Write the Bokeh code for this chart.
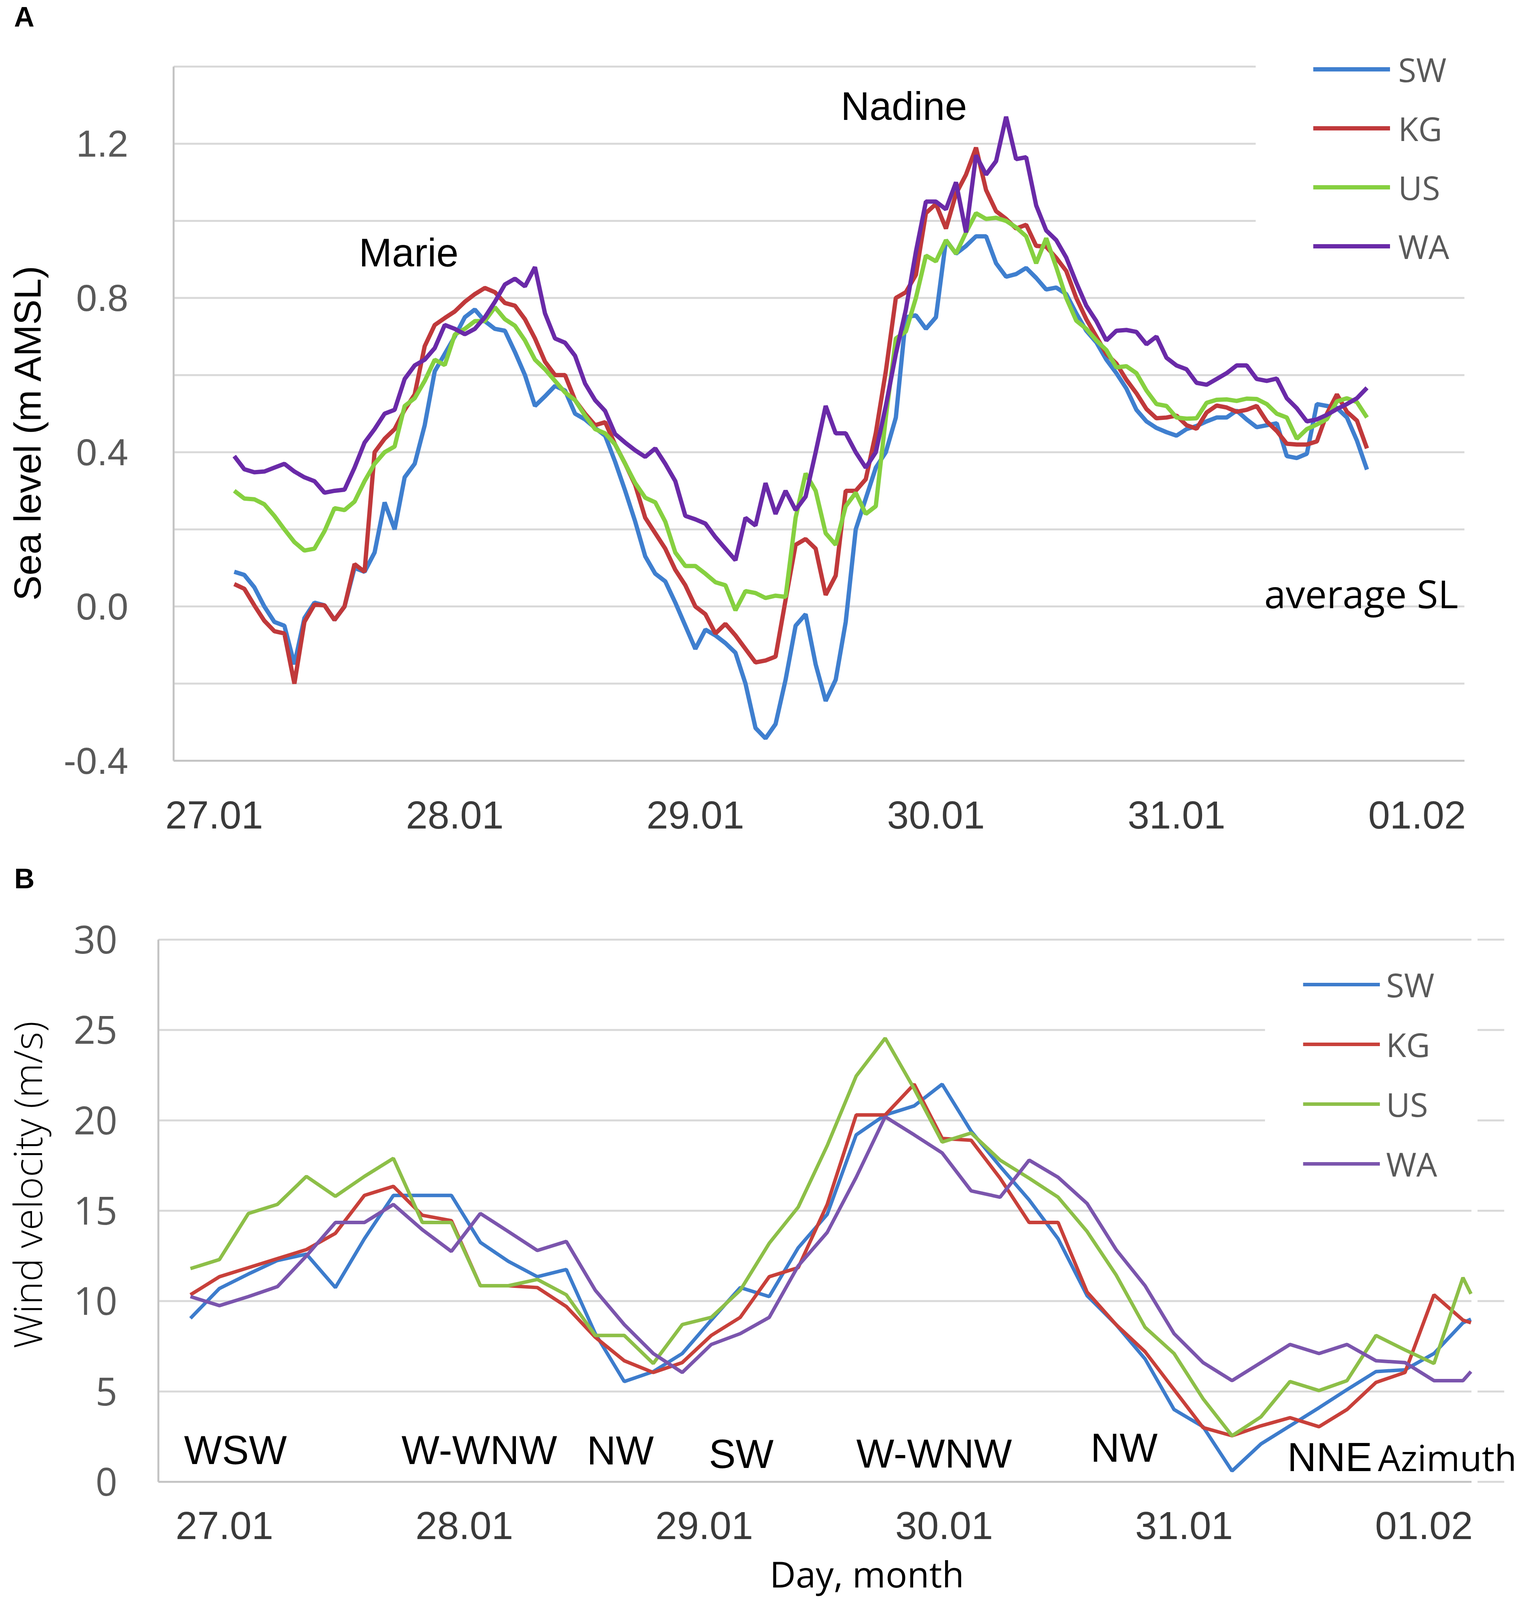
from math import pi

from bokeh.embed import file_html
from bokeh.layouts import column
from bokeh.models import FixedTicker, Label, PrintfTickFormatter, Range1d
from bokeh.plotting import figure
from bokeh.resources import INLINE

# ---- data -------------------------------------------------------------
stations = ["SW", "KG", "US", "WA"]
day_labels = ["27.01", "28.01", "29.01", "30.01", "31.01", "01.02"]
day_hours = [0, 24, 48, 72, 96, 120]

# panel A: sea level (m AMSL), hourly, hours after 27.01 00:00
sl_hours = list(range(2, 116))
sl_sw = [0.09, 0.082, 0.05, 0.0, -0.04, -0.05, -0.15, -0.03, 0.01, 0.003,
         -0.035, 0.0, 0.10, 0.09, 0.14, 0.27, 0.20, 0.335, 0.37, 0.47,
         0.61, 0.655, 0.70, 0.75, 0.77, 0.74, 0.72, 0.715, 0.66, 0.60,
         0.52, 0.545, 0.572, 0.56, 0.50, 0.485, 0.463, 0.443, 0.375, 0.30,
         0.22, 0.13, 0.085, 0.065, 0.01, -0.05, -0.11, -0.06, -0.075, -0.095,
         -0.12, -0.20, -0.315, -0.342, -0.305, -0.19, -0.05, -0.02,
         -0.15, -0.245, -0.19, -0.04, 0.20, 0.28, 0.36, 0.40, 0.49, 0.75,
         0.755, 0.72, 0.75, 0.95, 0.915, 0.935, 0.96, 0.96, 0.89, 0.855,
         0.862, 0.878, 0.852, 0.822, 0.827, 0.81, 0.76, 0.715, 0.685, 0.64,
         0.605, 0.565, 0.51, 0.48, 0.463, 0.452, 0.443, 0.46, 0.468, 0.48,
         0.49, 0.49, 0.508, 0.485, 0.465, 0.47, 0.475, 0.39, 0.385, 0.396,
         0.525, 0.52, 0.515, 0.49, 0.43, 0.355]
sl_kg = [0.058, 0.046, 0.003, -0.037, -0.064, -0.07, -0.20, -0.04, 0.005, 0.003,
         -0.035, 0.0, 0.11, 0.09, 0.40, 0.435, 0.46, 0.51, 0.55, 0.675,
         0.73, 0.748, 0.765, 0.79, 0.81, 0.826, 0.815, 0.787, 0.78, 0.745,
         0.695, 0.635, 0.60, 0.60, 0.535, 0.50, 0.47, 0.478, 0.42, 0.37,
         0.315, 0.23, 0.19, 0.15, 0.095, 0.055, 0.0, -0.02, -0.07, -0.045,
         -0.075, -0.11, -0.145, -0.14, -0.13, 0.017, 0.16, 0.175,
         0.15, 0.03, 0.08, 0.30, 0.30, 0.33, 0.45, 0.61, 0.80, 0.815,
         0.86, 1.02, 1.044, 0.98, 1.07, 1.12, 1.19, 1.08, 1.025, 1.005,
         0.98, 0.99, 0.935, 0.933, 0.904, 0.87, 0.80, 0.745, 0.70, 0.655,
         0.63, 0.588, 0.553, 0.512, 0.488, 0.49, 0.495, 0.47, 0.461, 0.503,
         0.521, 0.516, 0.505, 0.51, 0.52, 0.48, 0.455, 0.422, 0.42, 0.42,
         0.428, 0.50, 0.55, 0.505, 0.482, 0.41]
sl_us = [0.30, 0.28, 0.278, 0.265, 0.235, 0.20, 0.167, 0.145, 0.15, 0.195,
         0.255, 0.25, 0.272, 0.325, 0.37, 0.40, 0.415, 0.52, 0.54, 0.585,
         0.64, 0.626, 0.705, 0.72, 0.74, 0.74, 0.776, 0.745, 0.728, 0.69,
         0.64, 0.615, 0.585, 0.555, 0.535, 0.495, 0.46, 0.449, 0.42, 0.37,
         0.32, 0.282, 0.27, 0.22, 0.14, 0.105, 0.105, 0.085, 0.063, 0.055,
         -0.01, 0.04, 0.035, 0.022, 0.028, 0.025, 0.23, 0.345,
         0.30, 0.19, 0.16, 0.26, 0.295, 0.24, 0.26, 0.49, 0.695, 0.713,
         0.80, 0.91, 0.895, 0.95, 0.915, 0.97, 1.02, 1.005, 1.008, 1.0,
         0.983, 0.96, 0.89, 0.955, 0.88, 0.80, 0.741, 0.72, 0.69, 0.665,
         0.62, 0.623, 0.605, 0.56, 0.525, 0.52, 0.49, 0.487, 0.488, 0.528,
         0.536, 0.537, 0.533, 0.539, 0.538, 0.525, 0.50, 0.49, 0.435, 0.46,
         0.472, 0.486, 0.532, 0.54, 0.53, 0.49]
sl_wa = [0.39, 0.356, 0.348, 0.35, 0.36, 0.37, 0.35, 0.335, 0.325, 0.295,
         0.30, 0.303, 0.36, 0.425, 0.46, 0.50, 0.51, 0.59, 0.625, 0.64,
         0.67, 0.73, 0.72, 0.706, 0.72, 0.75, 0.79, 0.835, 0.85, 0.83,
         0.88, 0.76, 0.695, 0.684, 0.65, 0.578, 0.535, 0.507, 0.447, 0.425,
         0.405, 0.388, 0.41, 0.37, 0.325, 0.235, 0.226, 0.215, 0.18, 0.15,
         0.12, 0.23, 0.21, 0.32, 0.24, 0.30, 0.25, 0.285,
         0.40, 0.52, 0.449, 0.449, 0.40, 0.36, 0.40, 0.52, 0.655, 0.77,
         0.92, 1.05, 1.05, 1.03, 1.10, 0.97, 1.17, 1.12, 1.155, 1.27,
         1.16, 1.165, 1.04, 0.975, 0.95, 0.905, 0.84, 0.78, 0.74, 0.69,
         0.715, 0.717, 0.712, 0.68, 0.70, 0.645, 0.625, 0.615, 0.58, 0.575,
         0.59, 0.605, 0.625, 0.625, 0.59, 0.585, 0.591, 0.54, 0.514, 0.48,
         0.485, 0.497, 0.512, 0.525, 0.54, 0.567]

# panel B: wind velocity (m/s), roughly 3-hourly; last value is where the lines leave the plot
wind_hours = [-3.4, -0.5, 2.4, 5.3, 8.2, 11.1, 14.0, 16.9, 19.8, 22.7,
              25.6, 28.4, 31.3, 34.2, 37.1, 40.0, 42.9, 45.8, 48.7, 51.6,
              54.5, 57.4, 60.3, 63.2, 66.1, 69.0, 71.8, 74.7, 77.6, 80.5,
              83.4, 86.3, 89.2, 92.1, 95.0, 97.9, 100.8, 103.7, 106.6, 109.5,
              112.3, 115.2, 118.1, 121.0, 123.9, 124.7]
ws_sw = [9.05, 10.7, 11.5, 12.25, 12.6, 10.75, 13.45, 15.85, 15.85, 15.85,
         13.25, 12.2, 11.35, 11.75, 8.2, 5.55, 6.1, 7.1, 8.95, 10.75,
         10.25, 12.95, 14.8, 19.2, 20.3, 20.8, 22.0, 19.4, 17.45, 15.6,
         13.45, 10.3, 8.7, 6.8, 4.0, 3.05, 0.6, 2.1, 3.1, 4.1,
         5.1, 6.1, 6.2, 7.1, 8.8, 9.0]
ws_kg = [10.35, 11.35, 11.85, 12.35, 12.85, 13.75, 15.85, 16.35, 14.75, 14.45,
         10.85, 10.85, 10.75, 9.7, 8.0, 6.7, 6.05, 6.6, 8.1, 9.1,
         11.35, 11.85, 15.35, 20.3, 20.3, 22.0, 19.0, 18.9, 16.8, 14.35,
         14.35, 10.5, 8.7, 7.2, 5.1, 3.0, 2.55, 3.1, 3.55, 3.05,
         4.0, 5.5, 6.05, 10.35, 8.95, 8.8]
ws_us = [11.8, 12.3, 14.85, 15.35, 16.9, 15.8, 16.9, 17.9, 14.35, 14.35,
         10.85, 10.85, 11.2, 10.35, 8.1, 8.1, 6.55, 8.7, 9.1, 10.6,
         13.2, 15.2, 18.6, 22.45, 24.55, 21.75, 18.8, 19.3, 17.8, 16.8,
         15.75, 13.85, 11.45, 8.55, 7.1, 4.6, 2.55, 3.6, 5.55, 5.05,
         5.6, 8.1, 7.3, 6.55, 11.3, 10.4]
ws_wa = [10.25, 9.75, 10.25, 10.8, 12.5, 14.35, 14.35, 15.35, 13.95, 12.75,
         14.85, 13.85, 12.8, 13.3, 10.6, 8.7, 7.1, 6.05, 7.6, 8.2,
         9.1, 11.95, 13.8, 16.85, 20.2, 19.2, 18.2, 16.1, 15.75, 17.8,
         16.85, 15.4, 12.85, 10.85, 8.2, 6.6, 5.6, 6.6, 7.6, 7.1,
         7.6, 6.7, 6.6, 5.6, 5.6, 6.1]

# ---- styling ------------------------------------------------------------
colors_a = ["#3f7fcf", "#c0393b", "#86d040", "#6a2aa8"]
colors_b = ["#3d7ccc", "#c8403a", "#8dbf48", "#7b55ad"]
grid_color = "#d9d9d9"
tick_gray = "#595959"


def stretch(lo, hi, p_lo, p_hi, size):
    # the data span lo..hi sits between pixels p_lo..p_hi; extend it to the whole canvas
    s = (hi - lo) / (p_hi - p_lo)
    return Range1d(lo - p_lo * s, hi + (size - p_hi) * s)


def note(p, x, y, text, font, size, align="center", baseline="middle", bold=False, angle=0.0):
    p.add_layout(Label(x=x, y=y, text=text, text_font=font, text_font_size=f"{size}px",
                       text_color="black", text_align=align, text_baseline=baseline,
                       text_font_style="bold" if bold else "normal", angle=angle))


def style_axes(p, xr, yr, y_ticks, y_font, y_size, x_standoff, y_standoff):
    p.outline_line_color = None
    p.grid.visible = False
    p.xaxis.fixed_location = yr[0]
    p.xaxis.bounds = xr
    p.yaxis.fixed_location = xr[0]
    p.yaxis.bounds = yr
    for ax in (p.xaxis[0], p.yaxis[0]):
        ax.axis_line_color = "#c4c4c4"
        ax.axis_line_width = 5
        ax.major_tick_line_color = None
        ax.minor_tick_line_color = None
    p.xaxis.ticker = FixedTicker(ticks=day_hours)
    p.xaxis.major_label_overrides = dict(zip(day_hours, day_labels))
    p.xaxis.major_label_text_font = "Liberation Sans"
    p.xaxis.major_label_text_font_size = "100px"
    p.xaxis.major_label_text_color = "#3a3a3a"
    p.xaxis.major_label_standoff = x_standoff
    p.yaxis.ticker = FixedTicker(ticks=y_ticks)
    p.yaxis.major_label_text_font = y_font
    p.yaxis.major_label_text_font_size = f"{y_size}px"
    p.yaxis.major_label_text_color = tick_gray
    p.yaxis.major_label_standoff = y_standoff


def grid_lines(p, levels, x0, x1):
    p.segment(x0=x0, x1=x1, y0=levels, y1=levels, line_color=grid_color, line_width=5)


def style_legend(p, loc, spacing, standoff, line_len):
    lg = p.legend[0]
    lg.location = loc
    lg.border_line_color = None
    lg.background_fill_alpha = 0
    lg.padding = 0
    lg.margin = 0
    lg.spacing = spacing
    lg.glyph_height = 140
    lg.glyph_width = line_len
    lg.label_standoff = standoff
    lg.label_text_font = "Open Sans"
    lg.label_text_font_size = "84px"
    lg.label_text_color = tick_gray


# ---- panel A: sea level --------------------------------------------------
WA_, HA_ = 3904, 2150
a_x, a_y = (-4.05, 124.72), (-0.4, 1.4)
pa = figure(width=WA_, height=HA_, title=None,
            x_range=stretch(*a_x, 444, 3749, WA_), y_range=stretch(*a_y, HA_ - 1947, HA_ - 170, HA_),
            output_backend="svg", toolbar_location=None,
            min_border_left=0, min_border_right=0, min_border_top=0, min_border_bottom=0)
style_axes(pa, a_x, a_y, [-0.4, 0.0, 0.4, 0.8, 1.2], "Liberation Sans", 96, 98, 110)
pa.yaxis.formatter = PrintfTickFormatter(format="%.1f")

# grid lines; the top three stop short of the legend
grid_lines(pa, [-0.4, -0.2, 0.0, 0.2, 0.4, 0.6, 0.8], a_x[0], a_x[1])
grid_lines(pa, [1.0, 1.2, 1.4], a_x[0], 103.9)

for name, ys, col in zip(stations, [sl_sw, sl_kg, sl_us, sl_wa], colors_a):
    pa.line(sl_hours, ys, line_width=11, color=col, legend_label=name)
style_legend(pa, (3362, 1450), 11, 21, 197)

note(pa, -19.97, 1.570, "A", "Liberation Sans", 72, align="left", baseline="top", bold=True)
note(pa, -18.64, 0.452, "Sea level (m AMSL)", "Liberation Sans", 97, angle=pi / 2)
note(pa, 19.4, 0.917, "Marie", "Liberation Sans", 102)
note(pa, 68.8, 1.297, "Nadine", "Liberation Sans", 102)
note(pa, 124.1, 0.035, "average SL", "Open Sans", 99, align="right")

# ---- panel B: wind velocity ----------------------------------------------
WB_, HB_ = 3904, 1972
b_x, b_y = (-6.61, 124.75), (0, 30)
pb = figure(width=WB_, height=HB_, title=None,
            x_range=stretch(*b_x, 405, 3767, WB_), y_range=stretch(*b_y, HB_ - 1643, HB_ - 255, HB_),
            output_backend="svg", toolbar_location=None,
            min_border_left=0, min_border_right=0, min_border_top=0, min_border_bottom=0)
style_axes(pb, b_x, b_y, [0, 5, 10, 15, 20, 25, 30], "Open Sans", 98, 71, 99)

grid_lines(pb, [0, 5, 10, 15, 30], b_x[0], b_x[1])
grid_lines(pb, [20, 25], b_x[0], 104.1)
grid_lines(pb, [0, 5, 10, 15, 20, 25, 30], 125.36, 128.03)   # short stubs right of the plot

for name, ys, col in zip(stations, [ws_sw, ws_kg, ws_us, ws_wa], colors_b):
    pb.line(wind_hours, ys, line_width=9, color=col, legend_label=name)
style_legend(pb, (3336, 1073), 13, 16, 197)

note(pb, -21.03, 34.24, "B", "Liberation Sans", 72, align="left", baseline="top", bold=True)
note(pb, -19.74, 16.88, "Wind velocity (m/s)", "Open Sans", 100, angle=pi / 2)
note(pb, 64.27, -6.42, "Day, month", "Open Sans", 92, baseline="bottom")

wind_dirs = ["WSW", "W-WNW", "NW", "SW", "W-WNW", "NW"]
dir_hours = [1.1, 25.5, 39.6, 51.7, 71.0, 90.0]
dir_levels = [1.75, 1.75, 1.73, 1.54, 1.56, 1.88]
for txt, hx, yv in zip(wind_dirs, dir_hours, dir_levels):
    note(pb, hx, yv, txt, "Liberation Sans", 103)
note(pb, 106.33, 1.36, "NNE", "Liberation Sans", 103, align="left")
note(pb, 115.39, 1.36, "Azimuth", "Open Sans", 92, align="left")

layout = column(pa, pb)
open("out.html", "w").write(file_html(layout, INLINE))
